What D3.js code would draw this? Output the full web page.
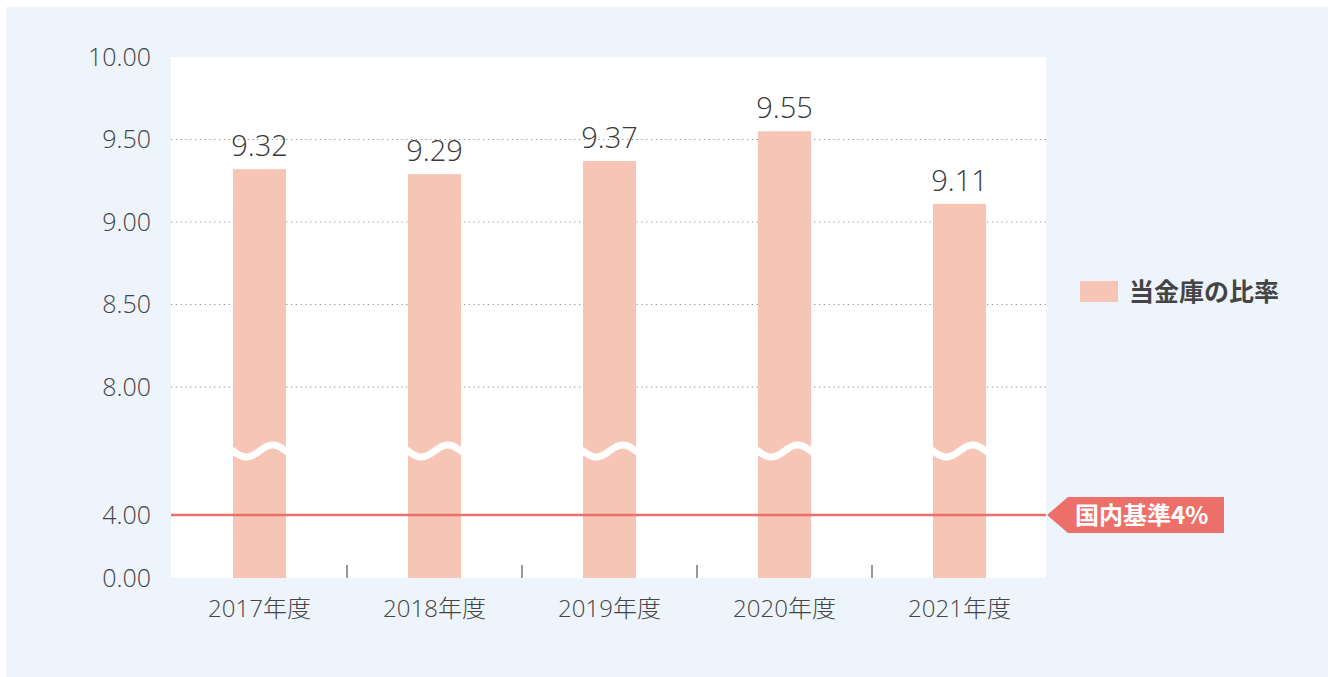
<!DOCTYPE html>
<html>
<head>
<meta charset="utf-8">
<script src="https://cdn.jsdelivr.net/npm/d3@7"></script>
<style>
  body { margin: 0; background: #fff; }
  svg text { font-family: "Open Sans", "Noto Sans CJK JP", sans-serif; font-weight: 300; }
</style>
</head>
<body>
<div id="chart"></div>
<script>
// data
const years = ["2017年度", "2018年度", "2019年度", "2020年度", "2021年度"];
const ratios = [9.32, 9.29, 9.37, 9.55, 9.11];
const yTicks = [0, 4, 8, 8.5, 9, 9.5, 10];
const gridTicks = [8, 8.5, 9, 9.5];
const standard = 4;
const breakValue = 6;
const legendLabel = "当金庫の比率";
const standardLabel = "国内基準4%";

const width = 1328,
  height = 677,
  plot = { left: 171, right: 1046, top: 57, bottom: 578 },
  barWidth = 53,
  barColor = "#f6c5b5",
  lineColor = "#ec6f69";

const svg = d3.select("#chart")
  .append("svg")
  .attr("width", width)
  .attr("height", height);

// background panel
svg.append("rect")
  .attr("x", 6).attr("y", 7)
  .attr("width", width - 6).attr("height", height - 7)
  .attr("fill", "#edf4fb");

svg.append("rect")
  .attr("x", plot.left).attr("y", plot.top)
  .attr("width", plot.right - plot.left).attr("height", plot.bottom - plot.top)
  .attr("fill", "#fff");

/* SCALES */
const xScale = d3.scaleBand()
  .domain(years)
  .range([plot.left + 1, plot.right + 1]);

// broken axis: 0-4 squeezed at the bottom, 8-10 stretched at the top
const yScale = d3.scaleLinear()
  .domain([0, 4, 8, 10])
  .range([plot.bottom, 515, 387, plot.top]);

// grid lines
svg.append("g")
  .selectAll("line")
  .data(gridTicks)
  .join("line")
  .attr("x1", plot.left).attr("x2", plot.right)
  .attr("y1", d => yScale(d)).attr("y2", d => yScale(d))
  .attr("stroke", "#8a8a8a")
  .attr("stroke-width", 1.2)
  .attr("stroke-dasharray", "1.2,3.6");

// y axis labels
const yAxis = d3.axisLeft(yScale)
  .tickValues(yTicks)
  .tickFormat(d3.format(".2f"))
  .tickSize(0)
  .tickPadding(0);

svg.append("g")
  .attr("class", "y-axis")
  .attr("transform", `translate(151,0)`)
  .call(yAxis)
  .call(g => g.select(".domain").remove())
  .selectAll("text")
  .attr("fill", "#444")
  .style("font-size", "25px");

// bars
svg.append("g")
  .selectAll("rect")
  .data(ratios)
  .join("rect")
  .attr("x", (d, i) => xScale(years[i]) + xScale.bandwidth() / 2 - barWidth / 2)
  .attr("width", barWidth)
  .attr("y", d => yScale(d))
  .attr("height", d => yScale(0) - yScale(d))
  .attr("fill", barColor);

// break waves
const wave = d3.line().curve(d3.curveBasis);
svg.append("g")
  .selectAll("path")
  .data(years)
  .join("path")
  .attr("d", d => {
    const x0 = xScale(d) + xScale.bandwidth() / 2 - barWidth / 2,
      yb = yScale(breakValue);
    const pts = d3.range(0, 41).map(k => {
      const t = k / 40;
      return [x0 - 2 + t * (barWidth + 4), yb + 6 * Math.sin(2 * Math.PI * (t * (barWidth + 4) - 2) / barWidth)];
    });
    return wave(pts);
  })
  .attr("fill", "none")
  .attr("stroke", "#fff")
  .attr("stroke-width", 7)
  .attr("stroke-linecap", "round");

// value labels
svg.append("g")
  .selectAll("text")
  .data(ratios)
  .join("text")
  .attr("x", (d, i) => xScale(years[i]) + xScale.bandwidth() / 2)
  .attr("y", d => yScale(d) - 13)
  .attr("text-anchor", "middle")
  .attr("fill", "#3a3a3a")
  .style("font-size", "29px")
  .text(d => d.toFixed(2));

// x axis
const xAxis = d3.axisBottom(xScale).tickSize(0).tickPadding(0);
svg.append("g")
  .attr("class", "x-axis")
  .attr("transform", `translate(0,${plot.bottom})`)
  .call(xAxis)
  .call(g => g.select(".domain").remove())
  .selectAll("text")
  .attr("y", 39)
  .attr("dy", 0)
  .attr("fill", "#444")
  .style("font-size", "24px");

// separator ticks between categories
svg.append("g")
  .selectAll("line")
  .data(years.slice(1))
  .join("line")
  .attr("x1", d => xScale(d)).attr("x2", d => xScale(d))
  .attr("y1", plot.bottom - 13).attr("y2", plot.bottom)
  .attr("stroke", "#333")
  .attr("stroke-width", 1);

// standard line
svg.append("line")
  .attr("x1", plot.left).attr("x2", plot.right)
  .attr("y1", yScale(standard)).attr("y2", yScale(standard))
  .attr("stroke", lineColor)
  .attr("stroke-width", 2.5);

const ys = yScale(standard);
svg.append("path")
  .attr("d", `M1047,${ys} L1068,${ys - 18} L1224,${ys - 18} L1224,${ys + 18} L1068,${ys + 18} Z`)
  .attr("fill", lineColor);

svg.append("text")
  .attr("x", 1075)
  .attr("y", ys + 9)
  .attr("fill", "#fff")
  .style("font-family", "'Noto Sans CJK JP', sans-serif")
  .style("font-weight", 700)
  .style("font-size", "24px")
  .text(standardLabel);

// legend
svg.append("rect")
  .attr("x", 1080).attr("y", 281)
  .attr("width", 38).attr("height", 21)
  .attr("fill", barColor);

svg.append("text")
  .attr("x", 1129)
  .attr("y", 301)
  .attr("fill", "#444")
  .style("font-family", "'Noto Sans CJK JP', sans-serif")
  .style("font-weight", 700)
  .style("font-size", "25px")
  .text(legendLabel);
</script>
</body>
</html>
